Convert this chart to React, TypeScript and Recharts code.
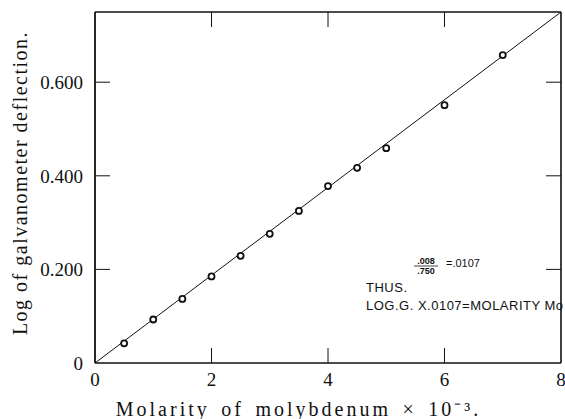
import React from 'react';
import { ComposedChart, XAxis, YAxis, Scatter, ReferenceLine, Customized } from 'recharts';

const molarity = [0.5, 1, 1.5, 2, 2.5, 3, 3.5, 4, 4.5, 5, 6, 7];
const logDeflection = [0.042, 0.093, 0.137, 0.185, 0.229, 0.276, 0.325, 0.378, 0.417, 0.459, 0.551, 0.658];
const xTicks = [0, 2, 4, 6, 8];
const yTicks = [0, 0.2, 0.4, 0.6];
const yTickLabels: Record<string, string> = { '0': '0', '0.2': '0.200', '0.4': '0.400', '0.6': '0.600' };
const X_DOMAIN: [number, number] = [0, 8];
const Y_DOMAIN: [number, number] = [0, 0.75];
const fitLine = [{ x: 0, y: 0 }, { x: 8, y: 0.75 }];
const xTitle = 'Molarity of molybdenum × 10⁻³.';
const yTitle = 'Log of galvanometer deflection.';

const points = molarity.map((m, i) => ({ x: m, y: logDeflection[i] }));

const serif = '"Liberation Serif", "Times New Roman", serif';
const sans = '"Liberation Sans", Arial, sans-serif';
const INK = '#111';

// inward tick mark length expressed as a fraction of each axis span (~15px)
const X_TICK_FRAC = 15 / 466;
const Y_TICK_FRAC = 15 / 351;
const xTickLen = (X_DOMAIN[1] - X_DOMAIN[0]) * X_TICK_FRAC;
const yTickLen = (Y_DOMAIN[1] - Y_DOMAIN[0]) * Y_TICK_FRAC;
const innerX = xTicks.filter((t) => t > X_DOMAIN[0] && t < X_DOMAIN[1]);
const innerY = yTicks.filter((t) => t > Y_DOMAIN[0] && t < Y_DOMAIN[1]);

const Circle = (props: any) => {
  const { cx, cy } = props;
  return <circle cx={cx} cy={cy} r={3} fill="#fff" stroke={INK} strokeWidth={1.8} />;
};

const Overlay = () => (
  <g fill={INK}>
    <text
      x={298.5}
      y={416}
      textAnchor="middle"
      fontFamily={serif}
      fontSize={20}
      letterSpacing={3}
      wordSpacing={3.5}
    >
      {xTitle}
    </text>
    <text
      x={27}
      y={183}
      transform="rotate(-90, 27, 183)"
      textAnchor="middle"
      fontFamily={serif}
      fontSize={20}
      letterSpacing={1.5}
    >
      {yTitle}
    </text>
    <g fontFamily={sans}>
      <text x={426} y={264} fontSize={9} textAnchor="middle" fontWeight="bold">.008</text>
      <line x1={414} x2={438} y1={266} y2={266} stroke={INK} strokeWidth={0.8} />
      <text x={426} y={274} fontSize={9} textAnchor="middle" fontWeight="bold">.750</text>
      <text x={446} y={267} fontSize={11}>=.0107</text>
      <text x={366} y={292} fontSize={13} letterSpacing={0.5}>THUS.</text>
      <text x={366} y={310} fontSize={13} letterSpacing={0.5}>LOG.G.  X.0107=MOLARITY Mo</text>
    </g>
  </g>
);

const tickMarkProps = { xAxisId: 0, yAxisId: 0, stroke: INK, strokeWidth: 1, ifOverflow: 'visible' as const };

export default function App() {
  return (
    <div style={{ position: 'absolute', left: 0, top: 0, background: '#fff' }}>
      <ComposedChart width={565} height={419} margin={{ top: 0, right: 0, bottom: 0, left: 0 }}>
        <XAxis
          xAxisId={0}
          type="number"
          dataKey="x"
          domain={X_DOMAIN}
          ticks={xTicks}
          height={56}
          tickSize={0}
          tickMargin={10}
          interval={0}
          axisLine={{ stroke: INK, strokeWidth: 1.6 }}
          tickLine={false}
          tick={{ fill: INK, fontFamily: serif, fontSize: 19 }}
          allowDataOverflow
        />
        <XAxis
          xAxisId="top"
          orientation="top"
          type="number"
          domain={X_DOMAIN}
          height={12}
          tick={false}
          tickLine={false}
          axisLine={{ stroke: INK, strokeWidth: 1.6 }}
        />
        <YAxis
          yAxisId={0}
          type="number"
          dataKey="y"
          domain={Y_DOMAIN}
          ticks={yTicks}
          width={95}
          tickSize={0}
          tickMargin={12}
          interval={0}
          tickFormatter={(v: number) => yTickLabels[String(v)] ?? String(v)}
          axisLine={{ stroke: INK, strokeWidth: 1.8 }}
          tickLine={false}
          tick={{ fill: INK, fontFamily: serif, fontSize: 19 }}
          allowDataOverflow
        />
        <YAxis
          yAxisId="right"
          orientation="right"
          type="number"
          domain={Y_DOMAIN}
          width={4}
          tick={false}
          tickLine={false}
          axisLine={{ stroke: INK, strokeWidth: 1.6 }}
        />
        {innerX.map((t) => (
          <ReferenceLine
            key={`b${t}`}
            {...tickMarkProps}
            segment={[{ x: t, y: Y_DOMAIN[0] }, { x: t, y: Y_DOMAIN[0] + yTickLen }]}
          />
        ))}
        {innerX.map((t) => (
          <ReferenceLine
            key={`t${t}`}
            {...tickMarkProps}
            segment={[{ x: t, y: Y_DOMAIN[1] }, { x: t, y: Y_DOMAIN[1] - yTickLen }]}
          />
        ))}
        {innerY.map((t) => (
          <ReferenceLine
            key={`l${t}`}
            {...tickMarkProps}
            segment={[{ x: X_DOMAIN[0], y: t }, { x: X_DOMAIN[0] + xTickLen, y: t }]}
          />
        ))}
        {innerY.map((t) => (
          <ReferenceLine
            key={`r${t}`}
            {...tickMarkProps}
            segment={[{ x: X_DOMAIN[1], y: t }, { x: X_DOMAIN[1] - xTickLen, y: t }]}
          />
        ))}
        <ReferenceLine {...tickMarkProps} segment={fitLine} />
        <Scatter
          xAxisId={0}
          yAxisId={0}
          data={points}
          dataKey="y"
          shape={<Circle />}
          isAnimationActive={false}
        />
        <Customized component={Overlay} />
      </ComposedChart>
    </div>
  );
}
